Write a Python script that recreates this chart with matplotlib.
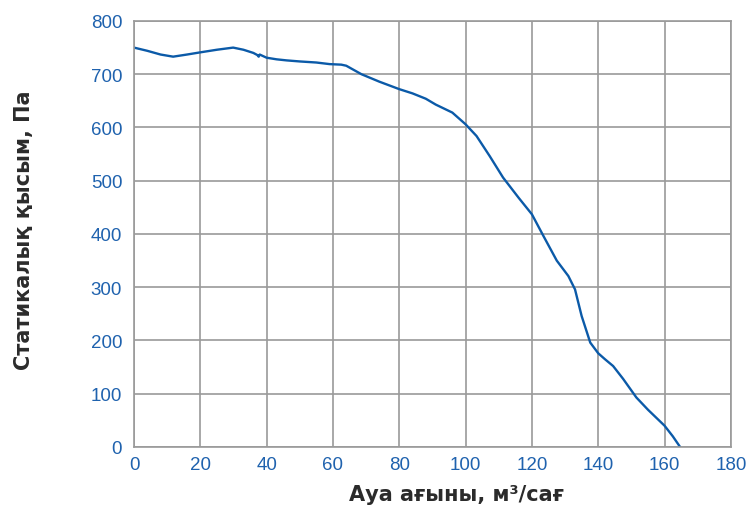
import matplotlib.pyplot as plt

# fan curve: air flow (m3/h) vs static pressure (Pa)
flow = [0, 4, 8, 11.8, 16, 19.9, 25, 29.9, 33, 36, 37.2, 37.6, 37.9, 40, 43, 46, 50,
        55, 59, 62.5, 64, 68.6, 74, 80, 84, 88, 91, 96, 100, 103.3, 107.3, 111.3,
        116, 120, 123.5, 127.5, 131, 133, 135, 137.6, 140, 142, 144.5, 147.5,
        151.5, 155, 158.5, 160, 162.5, 164.7]
pressure = [750, 744, 737, 733, 737, 741, 746, 750, 746, 740, 736, 733, 737, 731, 728, 726, 724,
            722, 719, 718, 716, 700, 686, 672, 664, 654, 643, 628, 606, 584, 546, 506,
            468, 437, 396, 350, 321, 296, 246, 196, 176, 165, 152, 128,
            93, 70, 49, 40, 20, 0]

xticks = list(range(0, 181, 20))
yticks = list(range(0, 801, 100))

tick_col = '#1f62ae'
grid_col = '#9a9a9a'

fig = plt.figure(figsize=(7.55, 5.10), dpi=100)
ax = fig.add_axes([0.1775, 0.1216, 0.7905, 0.8353])

ax.plot(flow, pressure, color='#0b5aa8', lw=1.7, solid_joinstyle='round')

ax.set_xlim(0, 180)
ax.set_ylim(0, 800)
ax.set_xticks(xticks)
ax.set_yticks(yticks)
ax.grid(True, color=grid_col, lw=1.2)
ax.set_axisbelow(True)
for s in ax.spines.values():
    s.set_color(grid_col)
    s.set_linewidth(1.2)

ax.tick_params(length=0, labelsize=13.5, labelcolor=tick_col)
ax.tick_params(axis='y', pad=8.5)
ax.tick_params(axis='x', pad=6.5)
for lab in ax.get_xticklabels() + ax.get_yticklabels():
    lab.set_family('Liberation Sans')

ax.set_xlabel('Ауа ағыны, м³/сағ', fontsize=15, fontweight='bold', color='#2b2b2b')
ax.xaxis.set_label_coords(0.54, -0.088)
ax.set_ylabel('Статикалық қысым, Па', fontsize=15, fontweight='bold', color='#2b2b2b')
ax.yaxis.set_label_coords(-0.168, 0.51)

fig.savefig('out.png')
